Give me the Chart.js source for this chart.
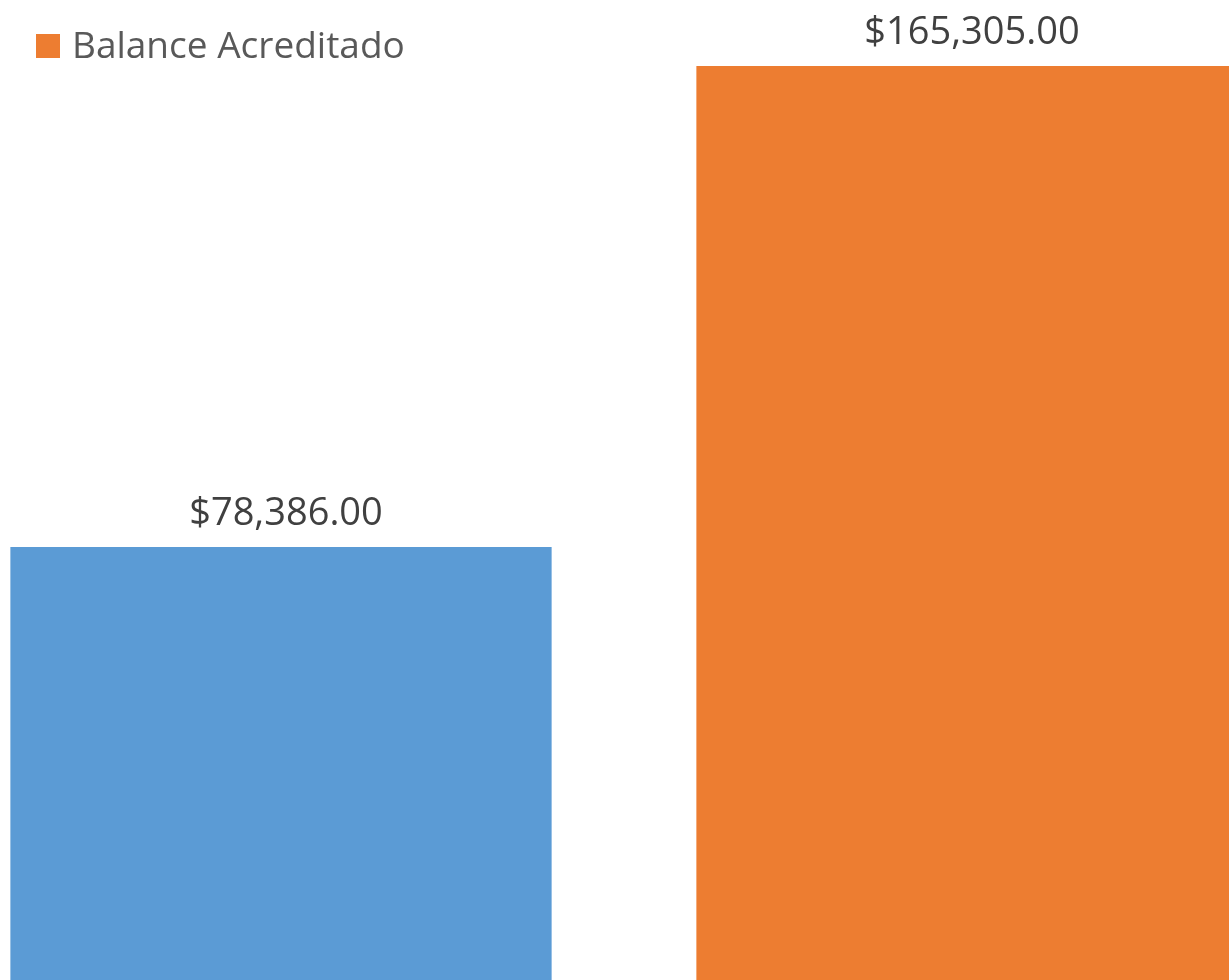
<!DOCTYPE html>
<html>
<head>
<meta charset="utf-8">
<script src="https://cdn.jsdelivr.net/npm/chart.js@4.4.1/dist/chart.umd.min.js"></script>
<style>
  html, body { margin: 0; padding: 0; background: #fff; }
  .wrap { position: relative; width: 1229px; height: 980px; overflow: hidden; }
  .legend {
    position: absolute; left: 36px; top: 20px; height: 48px;
    display: flex; align-items: center;
    font-family: "Open Sans", sans-serif; font-size: 37px; line-height: 48px; color: #595959;
  }
  .legend .box { width: 24px; height: 24px; background: #ED7D31; margin-right: 12px; margin-top: 4px; }
  .plot { position: absolute; left: -62px; top: 0; width: 1372px; height: 981px; }
</style>
</head>
<body>
<div class="wrap">
  <div class="plot"><canvas id="balanceChart"></canvas></div>
  <div class="legend"><span class="box"></span><span>Balance Acreditado</span></div>
</div>
<script>
const categories = ['Balance', 'Balance Acreditado'];
const balanceValues = [78386, 165305];
const barColors = ['#5B9BD5', '#ED7D31'];

const money = v => '$' + v.toLocaleString('en-US', { minimumFractionDigits: 2, maximumFractionDigits: 2 });

// value labels above each bar
const valueLabels = {
  id: 'valueLabels',
  afterDatasetsDraw(chart) {
    const ctx = chart.ctx;
    const meta = chart.getDatasetMeta(0);
    ctx.save();
    ctx.font = '38px "Open Sans", sans-serif';
    ctx.fillStyle = '#404040';
    ctx.textAlign = 'center';
    ctx.textBaseline = 'alphabetic';
    meta.data.forEach((bar, i) => {
      ctx.fillText(money(balanceValues[i]), bar.x + 5, bar.y - 22);
    });
    ctx.restore();
  }
};

new Chart(document.getElementById('balanceChart'), {
  type: 'bar',
  data: {
    labels: categories,
    datasets: [{
      label: 'Balance Acreditado',
      data: balanceValues,
      backgroundColor: barColors,
      borderWidth: 0,
      categoryPercentage: 1,
      barPercentage: 0.789
    }]
  },
  options: {
    responsive: true,
    maintainAspectRatio: false,
    animation: false,
    layout: { padding: { top: 66, left: 0, right: 0, bottom: 0 } },
    plugins: { legend: { display: false }, tooltip: { enabled: false } },
    scales: {
      x: { display: false },
      y: { display: false, min: 0, max: 165305 }
    }
  },
  plugins: [valueLabels]
});
</script>
</body>
</html>
